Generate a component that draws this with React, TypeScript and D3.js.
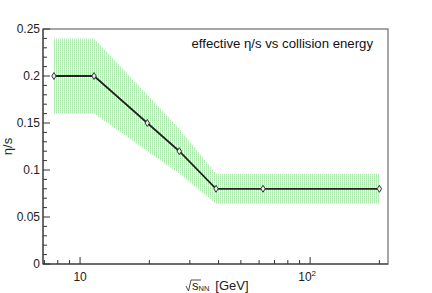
import React, {useRef, useEffect} from 'react';
import * as d3 from 'd3';

// collision energies (GeV) and eta/s values
const energies = [7.7, 11.5, 19.6, 27, 39, 62.4, 200];
const etaS = [0.2, 0.2, 0.15, 0.12, 0.08, 0.08, 0.08];
const bandLow = [0.16, 0.16, 0.12, 0.096, 0.064, 0.064, 0.064];
const bandHigh = [0.24, 0.24, 0.18, 0.144, 0.096, 0.096, 0.096];
const yTicks = [0, 0.05, 0.1, 0.15, 0.2, 0.25];
const yTickLabels = ['0', '0.05', '0.1', '0.15', '0.2', '0.25'];

const W = 432, H = 293;
const left = 43, right = 388, top = 29, bottom = 264;

const App = () => {
    const svgRef = useRef<SVGSVGElement>(null);

    useEffect(() => {
        const svg = d3.select(svgRef.current);
        svg.selectAll('*').remove();
        const font = 'Liberation Sans, Arial, sans-serif';

        const x = d3.scaleLog().domain([6.9, 218]).range([left, right]);
        const y = d3.scaleLinear().domain([0, 0.25]).range([bottom, top]);

        // hatched fill, vertical dotted stripes
        const defs = svg.append('defs');
        const pat = defs.append('pattern')
            .attr('id', 'hatch').attr('patternUnits', 'userSpaceOnUse')
            .attr('width', 2).attr('height', 2);
        pat.append('rect').attr('x', 0).attr('y', 0).attr('width', 1).attr('height', 2)
            .attr('fill', '#c2efc2');
        pat.append('rect').attr('x', 0).attr('y', 0).attr('width', 1).attr('height', 1)
            .attr('fill', '#a9e6a9');

        // uncertainty band
        const area = d3.area<number>()
            .x((d, i) => x(energies[i]))
            .y0((d, i) => y(bandLow[i]))
            .y1((d, i) => y(bandHigh[i]));
        svg.append('path').datum(etaS).attr('d', area)
            .attr('fill', 'url(#hatch)');

        // frame
        svg.append('rect').attr('x', left).attr('y', top)
            .attr('width', right - left).attr('height', bottom - top)
            .attr('fill', 'none').attr('stroke', '#888').attr('stroke-width', 1.5);

        // line
        const line = d3.line<number>().x((d, i) => x(energies[i])).y(d => y(d));
        svg.append('path').datum(etaS).attr('d', line)
            .attr('fill', 'none').attr('stroke', '#222').attr('stroke-width', 1.8);

        // open diamond markers
        svg.selectAll('.mk').data(etaS).join('path')
            .attr('class', 'mk')
            .attr('d', (d, i) => {
                const cx = x(energies[i]), cy = y(d);
                return `M${cx - 2.2},${cy}L${cx},${cy - 3.5}L${cx + 2.2},${cy}L${cx},${cy + 3.5}Z`;
            })
            .attr('fill', '#eee').attr('stroke', '#333').attr('stroke-width', 1);

        // axes
        const ax = svg.append('g').attr('stroke', '#333');
        ax.append('line').attr('x1', left).attr('x2', left).attr('y1', top).attr('y2', bottom);
        ax.append('line').attr('x1', left).attr('x2', right).attr('y1', bottom).attr('y2', bottom);
        d3.range(0, 0.2501, 0.01).forEach((v, i) => {
            const major = i % 5 === 0;
            ax.append('line').attr('x1', left).attr('x2', left + (major ? 7 : 4))
                .attr('y1', y(v)).attr('y2', y(v));
        });
        svg.selectAll('.yl').data(yTicks).join('text').attr('class', 'yl')
            .attr('x', left - 3).attr('y', d => y(d) + 4)
            .attr('text-anchor', 'end').attr('font-family', font).attr('font-size', 12)
            .attr('fill', '#222')
            .text((d, i) => yTickLabels[i]);

        const xt = [7, 8, 9, 10, 20, 30, 40, 50, 60, 70, 80, 90, 100, 200];
        xt.forEach(v => {
            const major = v === 10 || v === 100;
            ax.append('line').attr('x1', x(v)).attr('x2', x(v))
                .attr('y1', bottom).attr('y2', bottom - (major ? 7 : 4));
        });
        svg.append('text').attr('x', x(10)).attr('y', 281)
            .attr('text-anchor', 'middle').attr('font-family', font).attr('font-size', 12)
            .attr('fill', '#222').text('10');
        const t100 = svg.append('text').attr('x', x(100) - 3).attr('y', 281)
            .attr('text-anchor', 'middle').attr('font-family', font).attr('font-size', 12)
            .attr('fill', '#222');
        t100.append('tspan').text('10');
        t100.append('tspan').attr('font-size', 8).attr('dy', -5).text('2');

        // x title
        const xl = svg.append('g').attr('font-family', font).attr('fill', '#222');
        xl.append('path').attr('d', 'M186,286 L188.5,291 L191,280 L201,280')
            .attr('fill', 'none').attr('stroke', '#222').attr('stroke-width', 0.8);
        const xtext = xl.append('text').attr('x', 192).attr('y', 290).attr('font-size', 13);
        xtext.append('tspan').text('s');
        xtext.append('tspan').attr('font-size', 7.5).attr('dy', 1).text('NN');
        xtext.append('tspan').attr('dy', -1).attr('dx', 6).text('[GeV]');

        // y title
        svg.append('text').attr('transform', `translate(12,${(top + bottom) / 2}) rotate(-90)`)
            .attr('text-anchor', 'middle').attr('font-family', font).attr('font-size', 13)
            .attr('fill', '#222').text('η/s');

        // title
        svg.append('text').attr('x', 373).attr('y', 48).attr('text-anchor', 'end')
            .attr('font-family', font).attr('font-size', 13.2).attr('fill', '#111')
            .text('effective η/s vs collision energy');
    }, []);

    return <svg ref={svgRef} width={W} height={H} style={{position: 'absolute', left: 0, top: 0}} />;
};

export default App;
